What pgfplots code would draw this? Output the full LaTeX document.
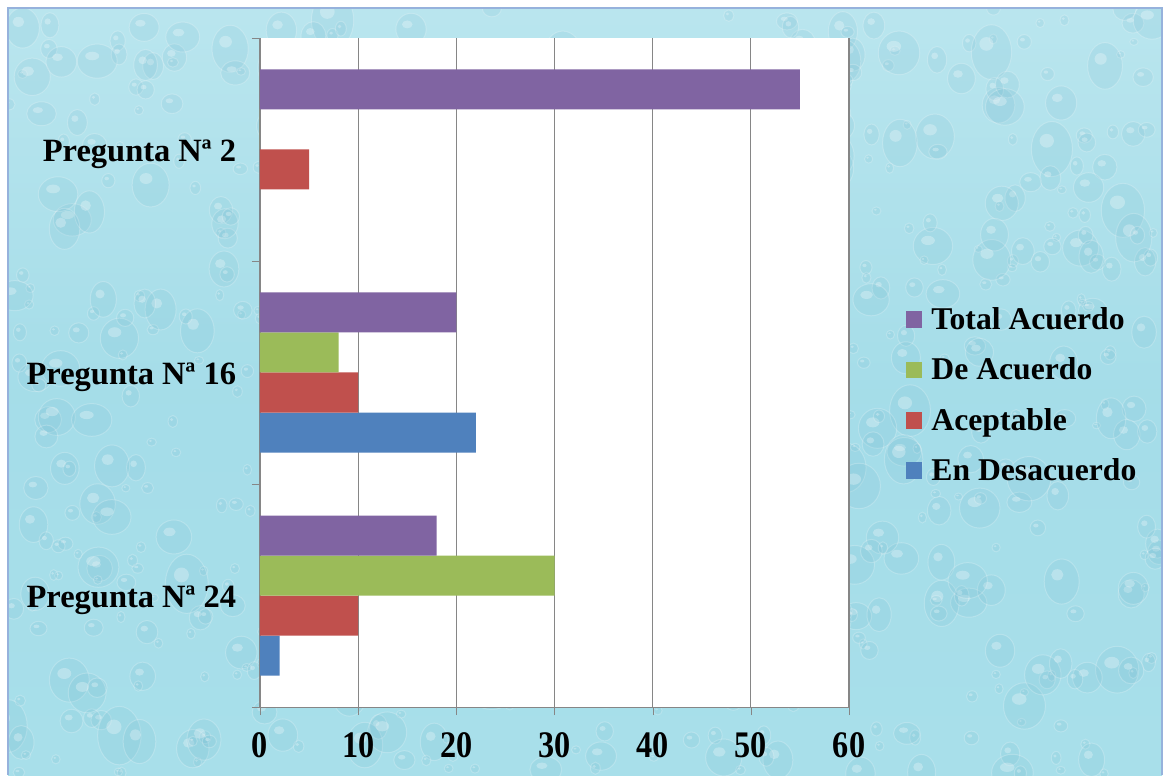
\documentclass[border=0pt]{standalone}
\usepackage{fontspec}
\setmainfont{Liberation Serif}
\newfontfamily\tickfont[FakeStretch=0.86]{Liberation Serif}
\usepackage{pgfplots}
\usepackage{pgfplotstable}
\pgfplotsset{compat=1.18}

\definecolor{bgwater}{RGB}{168,223,234}
\definecolor{bgwaterdark}{RGB}{105,180,203}
\definecolor{bgborder}{RGB}{150,178,220}
\definecolor{cDes}{RGB}{79,129,189}
\definecolor{cAcep}{RGB}{192,80,77}
\definecolor{cDe}{RGB}{155,187,89}
\definecolor{cTot}{RGB}{128,100,162}
\definecolor{gridgray}{RGB}{134,134,134}

% responses per question (0 = Pregunta 24, 1 = Pregunta 16, 2 = Pregunta 2)
\pgfplotstableread{
q  desac acep deac total
0  2     10   30   18
1  22    10   8    20
2  0     5    0    55
}\respuestas

\begin{document}
\begin{tikzpicture}
\useasboundingbox (0,0) rectangle (1168*0.6pt,775*0.6pt);
% page and water-coloured panel
\fill[white] (0,0) rectangle (1168*0.6pt,775*0.6pt);
\begin{scope}
\clip (8*0.6pt,0) rectangle (1162*0.6pt,767*0.6pt);
\shade[top color=bgwater!80!white, bottom color=bgwater, middle color=bgwater!95!bgwaterdark]
  (8*0.6pt,0) rectangle (1162*0.6pt,767*0.6pt);
% water drops
\pgfmathsetseed{11}
\foreach \i in {1,...,750} {
  \pgfmathsetmacro{\dx}{8+1154*rnd}
  \pgfmathsetmacro{\dy}{767*rnd}
  \pgfmathsetmacro{\dr}{4+18*rnd^2}
  \pgfmathsetmacro{\ds}{0.8+0.6*rnd}
  \fill[bgwaterdark, opacity=0.13] (\dx*0.6pt,\dy*0.6pt) ellipse ({\dr*0.6pt} and {\dr*\ds*0.6pt});
  \fill[white, opacity=0.28] ({(\dx-0.25*\dr)*0.6pt},{(\dy+0.3*\dr*\ds)*0.6pt}) ellipse ({0.35*\dr*0.6pt} and {0.25*\dr*\ds*0.6pt});
  \draw[white, opacity=0.22, line width=0.6pt] (\dx*0.6pt,\dy*0.6pt) ellipse ({\dr*0.6pt} and {\dr*\ds*0.6pt});
}
\end{scope}
\draw[bgborder, line width=1.2pt] (8*0.6pt,0) -- (8*0.6pt,767*0.6pt) -- (1162*0.6pt,767*0.6pt) -- (1162*0.6pt,0);

\begin{axis}[
  at={(260*0.6pt,68*0.6pt)}, anchor=south west,
  scale only axis,
  width=589*0.6pt, height=669*0.6pt,
  xbar=0pt, bar width=40*0.6pt,
  xmin=0, xmax=60, ymin=-0.5, ymax=2.5,
  axis x line*=bottom, axis y line*=left,
  axis line style={gridgray, -},
  axis background/.style={fill=white},
  xtick={0,10,...,60},
  xmajorgrids, major grid style={gridgray, line width=0.7pt},
  ytick={0,1,2},
  yticklabels={Pregunta N\textordfeminine\ 24, Pregunta N\textordfeminine\ 16, Pregunta N\textordfeminine\ 2},
  minor ytick={-0.5,0.5,1.5,2.5},
  tick align=outside,
  major tick length=8*0.6pt,
  minor tick length=8*0.6pt,
  y tick style={draw=none},
  minor y tick style={draw=gridgray},
  x tick style={gridgray},
  /pgf/number format/assume math mode=true,
  xticklabel style={font=\tickfont\bfseries\fontsize{22.5}{24}\selectfont, yshift=-7pt},
  yticklabel style={font=\bfseries\fontsize{19.5}{22}\selectfont, xshift=-6pt, yshift=-3pt},
  reverse legend,
  legend style={
    at={(1.087,0.466)}, anchor=west,
    draw=none, fill=none,
    font=\bfseries\fontsize{19}{21}\selectfont,
    row sep=11.5pt,
  },
  legend cell align=left,
  legend image code/.code={\fill[#1] (0pt,-5pt) rectangle (10pt,5pt); \path (13.5pt,0pt);},
]
\addplot[fill=cDes, draw=none]  table[x=desac, y=q] {\respuestas};
\addplot[fill=cAcep, draw=none] table[x=acep,  y=q] {\respuestas};
\addplot[fill=cDe, draw=none]   table[x=deac,  y=q] {\respuestas};
\addplot[fill=cTot, draw=none]  table[x=total, y=q] {\respuestas};
\legend{En Desacuerdo, Aceptable, De Acuerdo, Total Acuerdo}
\end{axis}
\end{tikzpicture}
\end{document}
